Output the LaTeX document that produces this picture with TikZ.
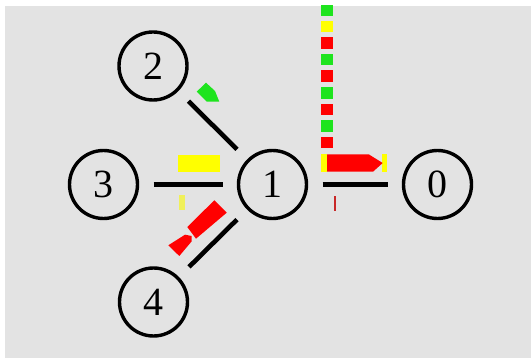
\documentclass[tikz,border=0pt]{standalone}
\usepackage{fontspec}
\setmainfont{Liberation Serif}
\definecolor{canvas}{RGB}{227,227,227}
\definecolor{pkred}{RGB}{255,0,0}
\definecolor{pkgreen}{RGB}{30,228,30}
\definecolor{pkyellow}{RGB}{255,255,0}
\definecolor{paleyellow}{RGB}{240,240,90}
\definecolor{darkred}{RGB}{200,40,40}
\tikzset{
  netnode/.style={circle, draw=black, line width=3.4pt, minimum size=68pt,
    inner sep=0pt, outer sep=0pt, font=\fontsize{40}{40}\selectfont},
  link/.style={line width=4.6pt, draw=black, shorten <=16pt, shorten >=16pt},
  pkt/.style={line width=0pt, draw=none},
}
\begin{document}
\begin{tikzpicture}[x=1pt, y=-1pt]
  \useasboundingbox (0,0) rectangle (531,358);
  \fill[white] (0,0) rectangle (531,358);
  \fill[canvas] (5,6) rectangle (531,358);

  % nodes
  \node[netnode] (n0) at (437.5,184.5) {0};
  \node[netnode] (n1) at (272.5,184.5) {1};
  \node[netnode] (n2) at (153,66) {2};
  \node[netnode] (n3) at (103.5,184.5) {3};
  \node[netnode] (n4) at (153.5,302) {4};

  % links
  \draw[link] (n3) -- (n1);
  \draw[link] (n1) -- (n0);
  \draw[link] (n2) -- (n1);
  \draw[link] (n1) -- (n4);

  % queue of packets stacked above node 1
  \begin{scope}
    \clip (5,6) rectangle (531,358);
    \fill[pkgreen] (320.7,4.1) rectangle (333.3,15.6);
  \end{scope}
  \foreach \k/\c in {0/pkyellow,1/pkred,2/pkgreen,3/pkred,4/pkgreen,5/pkred,6/pkgreen,7/pkred}{
    \fill[\c] (320.7,20.7+16.6*\k) rectangle (333.3,32.2+16.6*\k);
  }

  % packet on link 1-0
  \fill[pkyellow] (381.7,154.5) rectangle (387.3,171.7);
  \fill[pkyellow] (320.7,154.5) rectangle (327,171.7);
  \fill[pkred] (327,154.5) -- (369,154.5) -- (382.7,163) -- (373,171.7) -- (327,171.7) -- cycle;
  \fill[darkred] (334.2,196) rectangle (336.2,210.7);

  % packets on link 3-1
  \fill[pkyellow] (178.3,155) rectangle (220,171.7);
  \fill[paleyellow] (179.3,195.3) rectangle (185,210.5);

  % packet on link 2-1
  \fill[pkgreen] (196.7,91.7) -- (206,82.7) -- (215,91) -- (219.3,101.7) -- (206.7,101.7) -- cycle;

  % packets on link 1-4
  \fill[pkred] (214.3,200.3) -- (226.7,212.7) -- (196,238.7) -- (187.3,227) -- cycle;
  \fill[pkred] (185,234.7) -- (191.7,236) -- (191.7,241.3) -- (179.3,256) -- (168.3,245.3) -- cycle;
\end{tikzpicture}
\end{document}
